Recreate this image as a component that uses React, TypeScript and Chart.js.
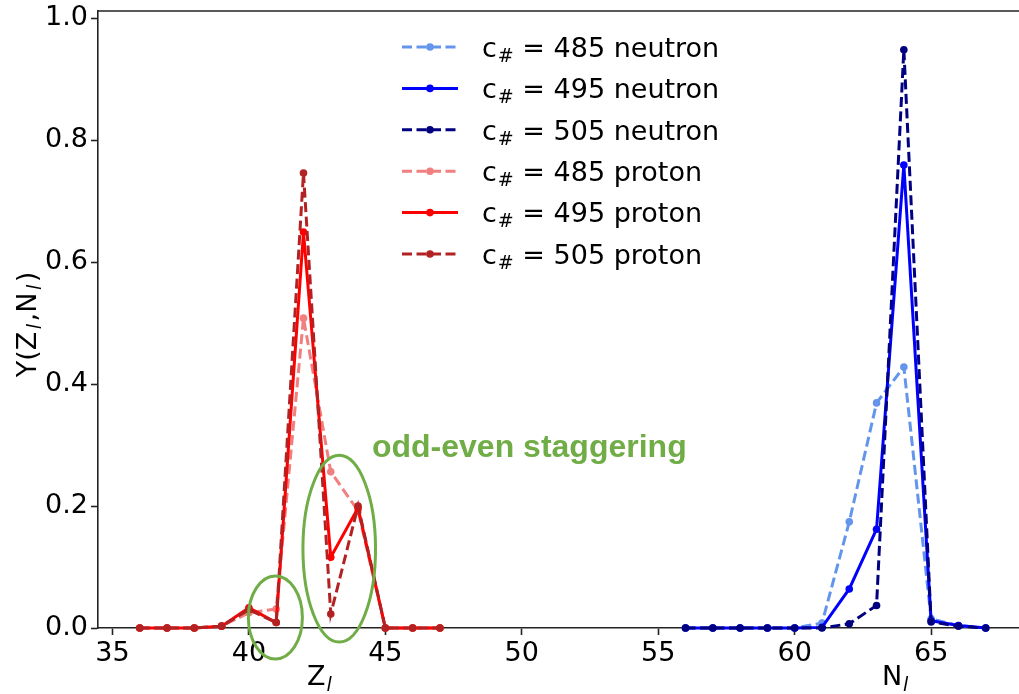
import React, { useEffect, useRef } from 'react';
import { Chart, registerables } from 'chart.js';

Chart.register(...registerables);

// ---------- data ----------
const protonZ = [36, 37, 38, 39, 40, 41, 42, 43, 44, 45, 46, 47];
const proton485 = [0, 0, 0, 0.003, 0.025, 0.031, 0.508, 0.256, 0.192, 0, 0, 0];
const proton495 = [0, 0, 0, 0.003, 0.033, 0.009, 0.649, 0.116, 0.197, 0, 0, 0];
const proton505 = [0, 0, 0, 0.003, 0.030, 0.009, 0.746, 0.023, 0.200, 0, 0, 0];

const neutronN = [56, 57, 58, 59, 60, 61, 62, 63, 64, 65, 66, 67];
const neutron485 = [0, 0, 0, 0, 0, 0.008, 0.174, 0.369, 0.428, 0.015, 0.004, 0];
const neutron495 = [0, 0, 0, 0, 0, 0.001, 0.064, 0.162, 0.759, 0.012, 0.004, 0];
const neutron505 = [0, 0, 0, 0, 0, 0, 0.007, 0.037, 0.948, 0.010, 0.003, 0];

const xTicks = [35, 40, 45, 50, 55, 60, 65];
const yTicks = [0, 0.2, 0.4, 0.6, 0.8, 1.0];

const seriesNumbers = ['485', '495', '505', '485', '495', '505'];
const seriesKinds = ['neutron', 'neutron', 'neutron', 'proton', 'proton', 'proton'];
const seriesColors = ['#6495ED', '#0000FF', '#000080', '#F08080', '#FF0000', '#B22222'];
const seriesDashed = [true, false, true, true, false, true];

const annotationText = 'odd-even staggering';

// ---------- style ----------
const FONT = "'DejaVu Sans', sans-serif";
const FS = 27;
const SPINE = '#222222';
const GREEN = '#70ad47';
const DASH = [10, 4.5];
const X_MIN = 34.47;
const X_MAX = 68.22;

const fmt = (v: number) => v.toFixed(1);

function drawParts(
  ctx: CanvasRenderingContext2D,
  parts: { t: string; sub?: boolean; italic?: boolean }[],
  x: number,
  y: number,
  size: number,
  align: 'left' | 'center',
  subGap = 0
) {
  const fontFor = (p: { sub?: boolean; italic?: boolean }) =>
    `${p.italic ? 'oblique ' : ''}${p.sub ? Math.round(size * 0.7) : size}px ${FONT}`;
  let total = 0;
  const widths = parts.map((p) => {
    ctx.font = fontFor(p);
    const w = ctx.measureText(p.t).width + (p.sub ? subGap * 2 : 0);
    total += w;
    return w;
  });
  let cx = align === 'center' ? x - total / 2 : x;
  ctx.textAlign = 'left';
  ctx.textBaseline = 'alphabetic';
  parts.forEach((p, i) => {
    ctx.font = fontFor(p);
    ctx.fillText(p.t, cx + (p.sub ? subGap : 0), p.sub ? y + size * 0.22 : y);
    cx += widths[i];
  });
}

const overlayPlugin = {
  id: 'overlay',
  afterDraw(chart: any) {
    const { ctx, chartArea, scales } = chart;
    const xs = scales.x;
    const ys = scales.y;
    ctx.save();

    // top spine
    ctx.strokeStyle = SPINE;
    ctx.lineWidth = 1.6;
    ctx.beginPath();
    ctx.moveTo(chartArea.left, chartArea.top);
    ctx.lineTo(chartArea.right, chartArea.top);
    ctx.stroke();

    // ellipses
    const ell = (cx: number, cy: number, rx: number, ry: number) => {
      const px = xs.getPixelForValue(cx);
      const py = ys.getPixelForValue(cy);
      const prx = Math.abs(xs.getPixelForValue(cx + rx) - px);
      const pry = Math.abs(ys.getPixelForValue(cy + ry) - py);
      ctx.beginPath();
      ctx.ellipse(px, py, prx, pry, 0, 0, Math.PI * 2);
      ctx.strokeStyle = GREEN;
      ctx.lineWidth = 3;
      ctx.stroke();
    };
    ell(40.97, 0.0172, 0.99, 0.068);
    ell(43.31, 0.13, 1.33, 0.153);

    // annotation text
    ctx.fillStyle = GREEN;
    ctx.font = `bold 32px 'Liberation Sans', Arial, sans-serif`;
    ctx.textAlign = 'left';
    ctx.textBaseline = 'alphabetic';
    ctx.fillText(annotationText, xs.getPixelForValue(44.51), ys.getPixelForValue(0.28));

    // axis labels
    ctx.fillStyle = '#000';
    const labelBase = chartArea.bottom + 57;
    drawParts(ctx, [{ t: 'Z' }, { t: 'l', sub: true, italic: true }], xs.getPixelForValue(42.6), labelBase, FS, 'center', 1);
    drawParts(ctx, [{ t: 'N' }, { t: 'l', sub: true, italic: true }], xs.getPixelForValue(63.7), labelBase, FS, 'center', 1);

    ctx.save();
    ctx.translate(35.5, (chartArea.top + chartArea.bottom) / 2 + 5);
    ctx.rotate(-Math.PI / 2);
    drawParts(
      ctx,
      [
        { t: 'Y(Z' },
        { t: 'l', sub: true, italic: true },
        { t: ',N' },
        { t: 'l', sub: true, italic: true },
        { t: ')' },
      ],
      0,
      0,
      FS,
      'center',
      2.5
    );
    ctx.restore();

    // legend
    const lx0 = chartArea.left + 304;
    const lx1 = lx0 + 56;
    const lxm = (lx0 + lx1) / 2;
    const tx = chartArea.left + 384;
    const row0 = chartArea.top + 36;
    const step = 41.4;
    seriesNumbers.forEach((num, i) => {
      const yc = row0 + i * step;
      ctx.strokeStyle = seriesColors[i];
      ctx.lineWidth = 3;
      ctx.setLineDash(seriesDashed[i] ? DASH : []);
      ctx.beginPath();
      ctx.moveTo(lx0, yc);
      ctx.lineTo(lx1, yc);
      ctx.stroke();
      ctx.setLineDash([]);
      ctx.fillStyle = seriesColors[i];
      ctx.beginPath();
      ctx.arc(lxm, yc, 3.8, 0, Math.PI * 2);
      ctx.fill();
      ctx.fillStyle = '#000';
      const base = yc + FS * 0.364;
      ctx.font = `${FS}px ${FONT}`;
      ctx.textAlign = 'left';
      ctx.textBaseline = 'alphabetic';
      ctx.fillText('c', tx, base);
      const cw = ctx.measureText('c').width;
      ctx.font = `${Math.round(FS * 0.7)}px ${FONT}`;
      ctx.fillText('#', tx + cw + 1, base + 5);
      const hw = ctx.measureText('#').width;
      ctx.font = `${FS}px ${FONT}`;
      ctx.fillText(` = ${num} ${seriesKinds[i]}`, tx + cw + 1 + hw, base);
    });

    ctx.restore();
  },
};

export default function App() {
  const ref = useRef<HTMLCanvasElement | null>(null);

  useEffect(() => {
    if (!ref.current) return;
    const groups = [
      { xs: neutronN, ys: neutron485 },
      { xs: neutronN, ys: neutron495 },
      { xs: neutronN, ys: neutron505 },
      { xs: protonZ, ys: proton485 },
      { xs: protonZ, ys: proton495 },
      { xs: protonZ, ys: proton505 },
    ];
    const datasets = groups.map((g, i) => ({
      label: `c# = ${seriesNumbers[i]} ${seriesKinds[i]}`,
      data: g.xs.map((x, j) => ({ x, y: g.ys[j] })),
      borderColor: seriesColors[i],
      backgroundColor: seriesColors[i],
      pointBackgroundColor: seriesColors[i],
      pointBorderWidth: 0,
      pointRadius: 3.8,
      borderWidth: 3,
      borderDash: seriesDashed[i] ? DASH : [],
      tension: 0,
      fill: false,
      clip: 6,
      order: 10 - i,
    }));

    const chart = new Chart(ref.current, {
      type: 'line',
      data: { datasets },
      options: {
        responsive: false,
        animation: false,
        events: [],
        layout: { autoPadding: false, padding: { top: 11, left: 0, right: 0, bottom: 0 } },
        plugins: { legend: { display: false }, tooltip: { enabled: false }, title: { display: false } },
        scales: {
          x: {
            type: 'linear',
            min: X_MIN,
            max: X_MAX,
            afterBuildTicks: (s: any) => {
              s.ticks = xTicks.map((v) => ({ value: v }));
            },
            afterFit: (s: any) => {
              s.height = 66;
              s.paddingLeft = 0;
              s.paddingRight = 0;
            },
            grid: {
              display: true,
              drawOnChartArea: false,
              drawTicks: true,
              tickLength: 7,
              tickWidth: 1.6,
              tickColor: SPINE,
            },
            border: { display: true, color: SPINE, width: 1.6 },
            ticks: {
              autoSkip: false,
              maxRotation: 0,
              padding: 3,
              color: '#000',
              font: { family: FONT, size: FS },
              callback: (v: any) => String(v),
            },
          },
          y: {
            type: 'linear',
            min: 0,
            max: 1.0115,
            afterBuildTicks: (s: any) => {
              s.ticks = yTicks.map((v) => ({ value: v }));
            },
            afterFit: (s: any) => {
              s.width = 98;
              s.paddingTop = 0;
              s.paddingBottom = 0;
            },
            grid: {
              display: true,
              drawOnChartArea: false,
              drawTicks: true,
              tickLength: 7,
              tickWidth: 1.6,
              tickColor: SPINE,
            },
            border: { display: true, color: SPINE, width: 1.6 },
            ticks: {
              autoSkip: false,
              padding: 3,
              color: '#000',
              font: { family: FONT, size: FS },
              callback: (v: any) => fmt(Number(v)),
            },
          },
        },
      },
      plugins: [overlayPlugin],
    });
    return () => chart.destroy();
  }, []);

  return (
    <div style={{ position: 'absolute', left: 0, top: 0, width: 1019, height: 694, background: '#fff' }}>
      <canvas ref={ref} width={1019} height={694} />
    </div>
  );
}
